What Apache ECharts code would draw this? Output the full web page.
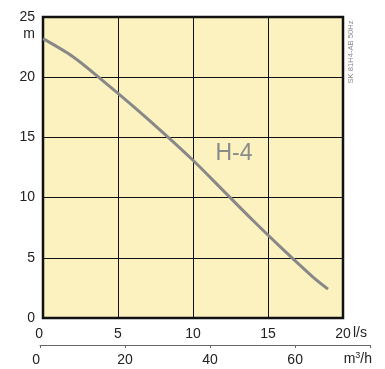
<!DOCTYPE html>
<html>
<head>
<meta charset="utf-8">
<script src="https://cdn.jsdelivr.net/npm/echarts@6/dist/echarts.min.js"></script>
<style>
  html, body { margin: 0; padding: 0; background: #fff; }
  #chart { width: 385px; height: 369px; }
</style>
</head>
<body>
<div id="chart"></div>
<script>
// Pump curve H-4: head (m) against flow (l/s)
const flowLs = [0, 2, 4, 6, 8, 10, 12, 14, 16, 18, 19];
const headM = [23.2, 21.7, 19.7, 17.6, 15.4, 13.1, 10.6, 8.1, 5.7, 3.4, 2.4];

// Secondary flow scale in m3/h
const flowM3hTicks = [0, 20, 40, 60];
const flowM3hMax = 77.6;

const curveLabel = 'H-4';
const sideNote = 'SK 81H4-AB 50Hz';
const unitHead = 'm';
const unitFlowLs = 'l/s';

const font = '"Liberation Sans", Arial, Helvetica, sans-serif';
const textColor = '#222';

const chart = echarts.init(document.getElementById('chart'), null, { renderer: 'canvas' });

chart.setOption({
  animation: false,
  grid: [
    {
      left: 43, top: 17, width: 300, height: 301,
      show: true,
      backgroundColor: '#FCF2C0',
      borderColor: '#111',
      borderWidth: 2.5
    },
    { left: 40, top: 344, width: 330, height: 1 }
  ],
  xAxis: [
    {
      gridIndex: 0,
      type: 'value',
      min: 0, max: 20, interval: 5,
      axisLine: { show: false },
      axisTick: { show: false },
      axisLabel: { fontFamily: font, fontSize: 14, color: textColor, margin: 9, alignMinLabel: 'right' },
      splitLine: { show: true, lineStyle: { color: '#111', width: 1 } }
    },
    {
      gridIndex: 1,
      type: 'value',
      min: 0, max: flowM3hMax, interval: 20,
      axisLine: { show: true, lineStyle: { color: '#666', width: 1 } },
      axisTick: { show: true, length: 3, lineStyle: { color: '#666' }, customValues: flowM3hTicks.concat([flowM3hMax]) },
      axisLabel: {
        fontFamily: font, fontSize: 14, color: textColor, margin: 8,
        customValues: flowM3hTicks, alignMinLabel: 'right'
      },
      splitLine: { show: false }
    }
  ],
  yAxis: [
    {
      gridIndex: 0,
      type: 'value',
      min: 0, max: 25, interval: 5,
      axisLine: { show: false },
      axisTick: { show: false },
      axisLabel: { fontFamily: font, fontSize: 14, color: textColor, margin: 8 },
      splitLine: { show: true, lineStyle: { color: '#111', width: 1 } }
    },
    { gridIndex: 1, type: 'value', show: false }
  ],
  series: [
    {
      type: 'line',
      xAxisIndex: 0,
      yAxisIndex: 0,
      data: flowLs.map((q, i) => [q, headM[i]]),
      smooth: 0.3,
      symbol: 'none',
      lineStyle: { color: '#888', width: 3, cap: 'butt' },
      z: 3
    }
  ],
  graphic: [
    {
      type: 'text',
      x: 234, y: 154,
      style: {
        text: curveLabel,
        fontFamily: font, fontSize: 23,
        fill: '#8a8a8a',
        align: 'center', verticalAlign: 'middle'
      },
      z: 10
    },
    {
      type: 'text',
      x: 351, y: 52,
      rotation: Math.PI / 2,
      style: {
        text: sideNote,
        fontFamily: font, fontSize: 7.6,
        fill: '#888',
        align: 'center', verticalAlign: 'middle'
      },
      z: 10
    },
    {
      type: 'text',
      x: 35, y: 34,
      style: {
        text: unitHead,
        fontFamily: font, fontSize: 14, fill: textColor,
        align: 'right', verticalAlign: 'middle'
      }
    },
    {
      type: 'text',
      x: 353, y: 333,
      style: {
        text: unitFlowLs,
        fontFamily: font, fontSize: 14, fill: textColor,
        align: 'left', verticalAlign: 'middle'
      }
    },
    {
      type: 'text',
      x: 372, y: 359,
      style: {
        text: 'm{sup|3}/h',
        fontFamily: font, fontSize: 14, fill: textColor,
        align: 'right', verticalAlign: 'middle',
        rich: {
          sup: { fontFamily: font, fontSize: 9, fill: textColor, padding: [0, 0, 7, 0] }
        }
      }
    }
  ]
});
</script>
</body>
</html>
